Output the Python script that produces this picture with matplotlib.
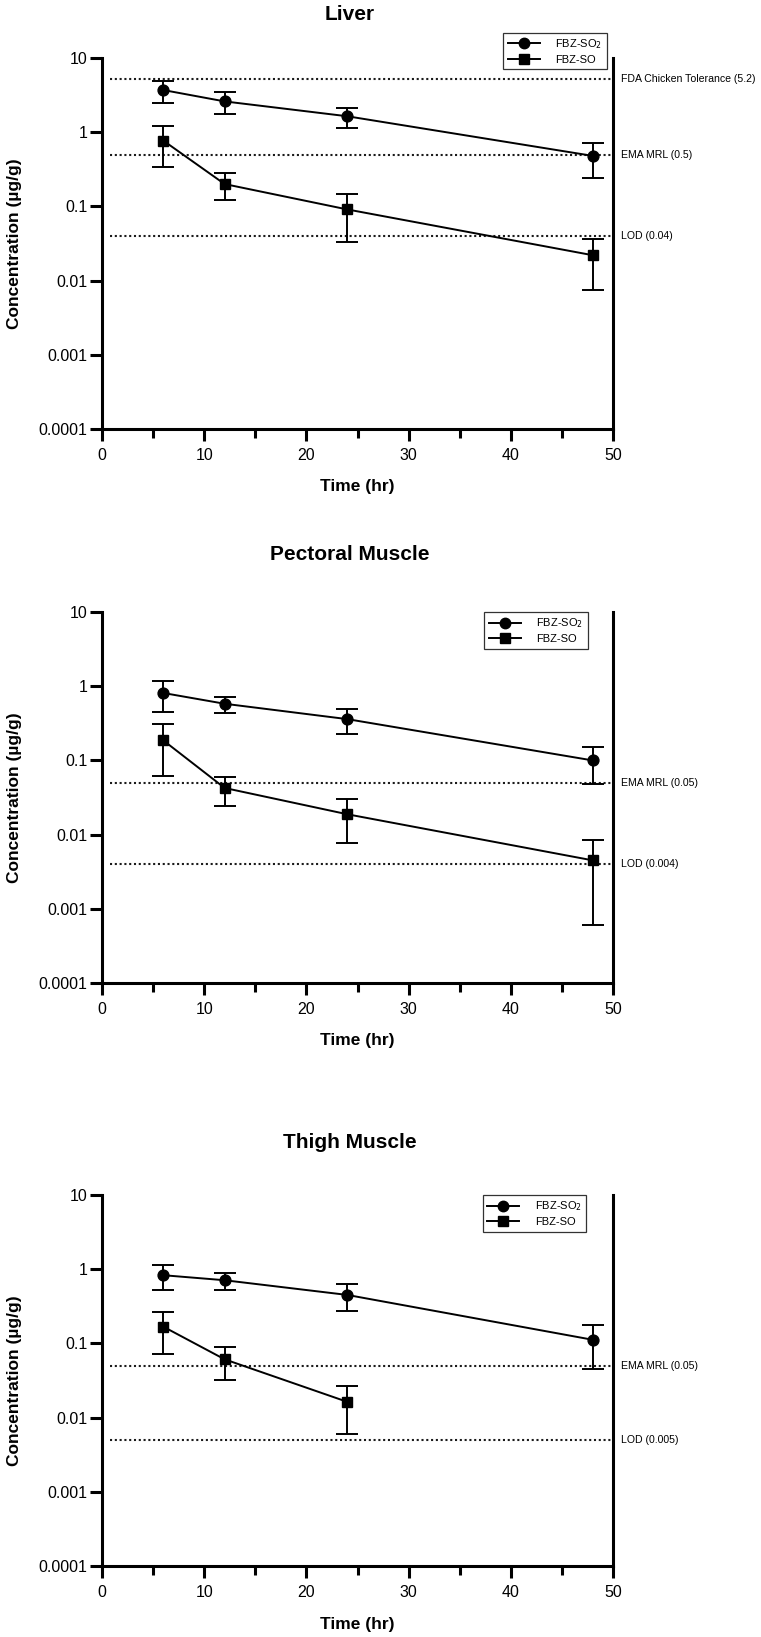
import matplotlib.pyplot as plt
from matplotlib import font_manager
from matplotlib.lines import Line2D
from matplotlib.ticker import FixedLocator, MultipleLocator, NullLocator
import matplotlib.transforms as mtransforms

plt.rcParams['font.family'] = ['Liberation Sans', 'DejaVu Sans']

# fonte estreita para os rótulos das linhas de referência, se existir
try:
    font_manager.findfont('Liberation Sans Narrow', fallback_to_default=False)
    ref_font, ref_size = ['Liberation Sans Narrow', 'Liberation Sans'], 9.2
except Exception:
    ref_font, ref_size = ['Liberation Sans', 'DejaVu Sans'], 7.6

# tempos de coleta (h)
time_hr = [6, 12, 24, 48]
time_thigh_so = [6, 12, 24]

# Liver
liver_so2 = [3.7, 2.6, 1.64, 0.48]
liver_so2_sd = [1.25, 0.84, 0.5, 0.235]
liver_so = [0.77, 0.20, 0.091, 0.022]
liver_so_sd = [0.43, 0.078, 0.058, 0.0145]

# Pectoral muscle
pect_so2 = [0.81, 0.58, 0.36, 0.10]
pect_so2_sd = [0.36, 0.14, 0.13, 0.052]
pect_so = [0.186, 0.0425, 0.0188, 0.0045]
pect_so_sd = [0.124, 0.018, 0.011, 0.0039]

# Thigh muscle
thigh_so2 = [0.83, 0.71, 0.45, 0.112]
thigh_so2_sd = [0.31, 0.19, 0.175, 0.067]
thigh_so = [0.168, 0.061, 0.0163]
thigh_so_sd = [0.095, 0.029, 0.0102]

# linhas de referência (valor, rótulo)
liver_refs = [(5.2, "FDA Chicken Tolerance (5.2)"), (0.5, "EMA MRL (0.5)"), (0.04, "LOD (0.04)")]
pect_refs = [(0.05, "EMA MRL (0.05)"), (0.004, "LOD (0.004)")]
thigh_refs = [(0.05, "EMA MRL (0.05)"), (0.005, "LOD (0.005)")]

y_ticks = [10, 1, 0.1, 0.01, 0.001, 0.0001]
y_tick_labels = ["10", "1", "0.1", "0.01", "0.001", "0.0001"]

W, H = 761, 1637
AX_LEFT, AX_RIGHT = 102, 613
AX_H = 371

panels = [
    dict(title="Liver", so2=liver_so2, so2_sd=liver_so2_sd, t_so=time_hr, so=liver_so, so_sd=liver_so_sd,
         refs=liver_refs, bottom_px=429, title_px=15, legend_anchor=(0.988, 1.068)),
    dict(title="Pectoral Muscle", so2=pect_so2, so2_sd=pect_so2_sd, t_so=time_hr, so=pect_so, so_sd=pect_so_sd,
         refs=pect_refs, bottom_px=983, title_px=555, legend_anchor=(0.951, 1.0)),
    dict(title="Thigh Muscle", so2=thigh_so2, so2_sd=thigh_so2_sd, t_so=time_thigh_so, so=thigh_so, so_sd=thigh_so_sd,
         refs=thigh_refs, bottom_px=1566, title_px=1142, legend_anchor=(0.948, 1.0)),
]

fig = plt.figure(figsize=(W / 100, H / 100), dpi=100)

for p in panels:
    ax = fig.add_axes([AX_LEFT / W, 1 - p["bottom_px"] / H, (AX_RIGHT - AX_LEFT) / W, AX_H / H])
    ax.set_yscale("log")
    ax.set_xlim(0, 50)
    ax.set_ylim(0.0001, 10)

    # linhas pontilhadas de referência
    trans = mtransforms.blended_transform_factory(ax.transAxes, ax.transData)
    for val, lab in p["refs"]:
        ax.axhline(val, xmin=0.016, xmax=1, color="#1a1a1a", lw=1.5, ls=(0, (1, 1.3)), zorder=1)
        ax.text(1.0157, val, lab, transform=trans, ha="left", va="center", fontsize=ref_size,
                family=ref_font, clip_on=False)

    ax.errorbar(time_hr, p["so2"], yerr=p["so2_sd"], color="black", marker="o", ms=7.8,
                lw=1.4, elinewidth=1.4, capsize=8, capthick=1.4, zorder=3)
    ax.errorbar(p["t_so"], p["so"], yerr=p["so_sd"], color="black", marker="s", ms=7.2,
                lw=1.4, elinewidth=1.4, capsize=8, capthick=1.4, zorder=3)

    # eixos no estilo GraphPad
    ax.spines["top"].set_visible(False)
    for s in ["left", "bottom", "right"]:
        ax.spines[s].set_linewidth(2.2)
    ax.yaxis.set_major_locator(FixedLocator(y_ticks))
    ax.yaxis.set_minor_locator(NullLocator())
    ax.set_yticklabels(y_tick_labels)
    ax.xaxis.set_major_locator(MultipleLocator(10))
    ax.xaxis.set_minor_locator(MultipleLocator(5))
    ax.tick_params(axis="both", which="major", direction="out", length=8.5, width=2.2, labelsize=11.5)
    ax.tick_params(axis="x", which="major", pad=4.9)
    ax.tick_params(axis="y", which="major", pad=2.2)
    ax.tick_params(axis="x", which="minor", direction="out", length=6.5, width=2.2)
    ax.tick_params(axis="y", which="both", right=False)

    fig.text(350 / W, 1 - p["title_px"] / H, p["title"], ha="center", va="center",
             fontsize=15, fontweight="bold")

    ax.set_xlabel("Time (hr)", fontsize=12.5, fontweight="bold")
    ax.xaxis.label.set_va("center")
    ax.xaxis.set_label_coords(0.5, -58 / AX_H)
    ax.set_ylabel("Concentration (µg/g)", fontsize=12.5, fontweight="bold")
    ax.yaxis.label.set_va("center")
    ax.yaxis.set_label_coords((15 - AX_LEFT) / (AX_RIGHT - AX_LEFT), 0.5)

    handles = [
        Line2D([], [], color="black", marker="o", ms=7.5, lw=1.4),
        Line2D([], [], color="black", marker="s", ms=7, lw=1.4),
    ]
    leg = ax.legend(handles, ["FBZ-SO$_2$", "FBZ-SO"], loc="upper right", bbox_to_anchor=p["legend_anchor"],
                    borderaxespad=0, fontsize=8, frameon=True, fancybox=False, edgecolor="#333333",
                    framealpha=1, handlelength=2.9, borderpad=0.4, labelspacing=0.35, handletextpad=1.4)
    leg.get_frame().set_linewidth(0.9)

plt.savefig("out.png", dpi=100)
